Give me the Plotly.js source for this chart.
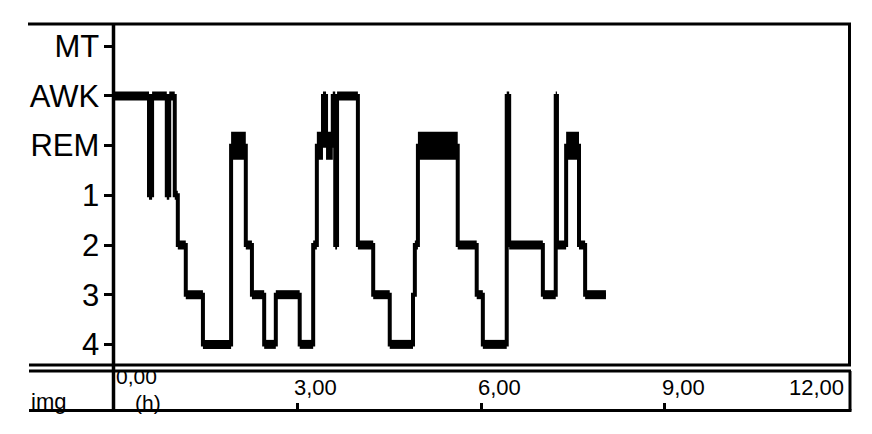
<!DOCTYPE html>
<html>
<head>
<meta charset="utf-8">
<script src="https://cdn.plot.ly/plotly-3.0.1.min.js"></script>
<style>html,body{margin:0;padding:0;background:#fff;}#chart{width:872px;height:434px;}</style>
</head>
<body>
<div id="chart"></div>
<script>
// ---- data ----
const stageOrder = ['4', '3', '2', '1', 'REM', 'AWK', 'MT'];           // bottom -> top
const stageStartHours = [0, 0.58, 0.63, 0.87, 0.91, 1.00, 1.05, 1.18, 1.46, 1.92,
  2.16, 2.26, 2.46, 2.65, 3.04, 3.26, 3.32, 3.42, 3.47, 3.58,
  3.62, 3.65, 3.99, 4.24, 4.51, 4.89, 4.92, 4.97, 5.62, 5.93,
  6.03, 6.42, 6.46, 7.01, 7.22, 7.24, 7.39, 7.60, 7.70];
const recordEndHours = 8.04;
const stageSequence = ['AWK', '1', 'AWK', '1', 'AWK', '1', '2', '3', '4', 'REM',
  '2', '3', '4', '3', '4', '2', 'REM', 'AWK', 'REM', 'AWK',
  '2', 'AWK', '2', '3', '4', '3', '2', 'REM', '2', '3',
  '4', 'AWK', '2', '3', 'AWK', '2', 'REM', '2', '3'];
const timeTickValues = [0, 3, 6, 9, 12];
const timeTickLabels = ['0,00', '3,00', '6,00', '9,00', '12,00'];
const timeUnitLabel = '(h)';
const channelLabel = 'img';

// ---- build traces ----
const lvl = s => stageOrder.indexOf(s);
const ends = stageStartHours.slice(1).concat([recordEndHours]);

const stepX = stageStartHours.concat([recordEndHours]);
const stepY = stageSequence.map(lvl).concat([lvl(stageSequence[stageSequence.length - 1])]);

const segX = [], segY = [], remX = [], remY = [];
stageSequence.forEach((s, i) => {
  const tx = s === 'REM' ? remX : segX;
  const ty = s === 'REM' ? remY : segY;
  tx.push(stageStartHours[i], ends[i], null);
  ty.push(lvl(s), lvl(s), null);
});

const traces = [
  {x: stepX, y: stepY, type: 'scatter', mode: 'lines',
   line: {shape: 'hv', width: 4, color: '#000', simplify: false}, hoverinfo: 'skip'},
  {x: segX, y: segY, type: 'scatter', mode: 'lines',
   line: {width: 9, color: '#000', simplify: false}, hoverinfo: 'skip'},
  {x: remX, y: remY, type: 'scatter', mode: 'lines',
   line: {width: 28, color: '#000', simplify: false}, hoverinfo: 'skip'},
  {x: [null], y: [null], xaxis: 'x2', yaxis: 'y2', type: 'scatter', mode: 'lines', hoverinfo: 'skip'}
];

// ---- geometry helpers (pixels -> paper) ----
const W = 872, H = 434;
const px = v => v / W, py = v => 1 - v / H;
const plotL = 113.5, plotR = 848.5, plotT = 24, plotB = 365;
const botT = 371, botB = 410.5;

const ln = (x0, y0, x1, y1, w) => ({type: 'line', xref: 'paper', yref: 'paper',
  x0: px(x0), y0: py(y0), x1: px(x1), y1: py(y1), line: {color: '#000', width: w || 3}, layer: 'above'});

const shapes = [
  ln(28, plotT, 851, plotT),
  ln(849.5, plotT, 849.5, plotB),
  ln(29, plotB, 851, plotB),
  ln(29, botT, 851, botT),
  ln(29, botB, 851.5, botB),
  ln(850, botT, 850, botB),
  ln(113.5, plotT, 113.5, botB, 3.5)
];

const fam = 'Liberation Sans, Arial, Helvetica, sans-serif';
const annotations = [];
timeTickValues.forEach((v, i) => {
  let a = {xref: 'x', yref: 'paper', x: v, text: timeTickLabels[i], showarrow: false,
    font: {family: fam, size: 22, color: '#000'}, yanchor: 'middle', xanchor: 'left', xshift: -5, y: py(387)};
  if (i === 0) { a.xshift = 0; a.y = py(376.5); a.font = {family: fam, size: 21, color: '#000'}; }
  if (i === timeTickValues.length - 1) { a.xanchor = 'right'; a.xshift = -3; }
  annotations.push(a);
});
annotations.push({xref: 'paper', yref: 'paper', x: px(148), y: py(402), text: timeUnitLabel, showarrow: false,
  font: {family: fam, size: 21, color: '#000'}, xanchor: 'center', yanchor: 'middle'});
annotations.push({xref: 'paper', yref: 'paper', x: px(29), y: py(401), text: channelLabel, showarrow: false,
  font: {family: fam, size: 22, color: '#000'}, xanchor: 'left', yanchor: 'middle'});

const layout = {
  width: W, height: H,
  margin: {l: 0, r: 0, t: 0, b: 0, pad: 0},
  paper_bgcolor: '#fff', plot_bgcolor: '#fff',
  showlegend: false,
  xaxis: {domain: [px(plotL), px(plotR) ], range: [0, 12], showgrid: false, zeroline: false,
    showticklabels: false, ticks: '', showline: false, anchor: 'y'},
  yaxis: {domain: [py(plotB), py(plotT)], range: [-0.415, 6.448], showgrid: false, zeroline: false,
    tickvals: stageOrder.map((s, i) => i), ticktext: stageOrder, ticks: 'outside', ticklen: 9,
    tickwidth: 3, tickcolor: '#000', showline: false, ticklabelstandoff: -2,
    tickfont: {family: fam, size: 31, color: '#000'}, anchor: 'x'},
  xaxis2: {domain: [px(plotL), px(plotR)], range: [0, 12], anchor: 'y2', showgrid: false, zeroline: false,
    tickvals: [3, 6, 9], ticks: 'inside', ticklen: 8, tickwidth: 3, tickcolor: '#000',
    showticklabels: false, showline: false},
  yaxis2: {domain: [py(botB), py(botT)], range: [0, 1], anchor: 'x2', visible: false},
  shapes: shapes,
  annotations: annotations
};

Plotly.newPlot('chart', traces, layout, {staticPlot: true, displayModeBar: false});
</script>
</body>
</html>
